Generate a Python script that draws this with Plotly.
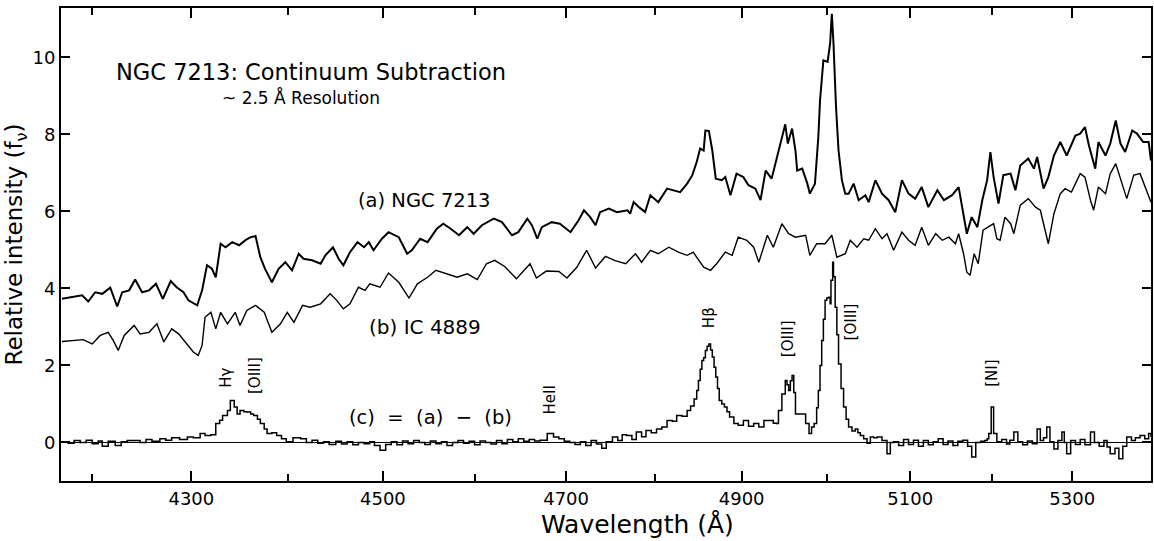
import math
import plotly.graph_objects as go

# ---------------- data ----------------
wl_a = [4170, 4176, 4183, 4190, 4196, 4203, 4210, 4218, 4225, 4230, 4237, 4243, 4250, 4257, 4264,
        4271, 4279, 4285, 4292, 4297, 4306, 4311, 4316, 4321, 4325, 4330, 4335, 4342, 4349, 4356,
        4361, 4366, 4371, 4376, 4383, 4390, 4397, 4404, 4411, 4416, 4425, 4434, 4439, 4447, 4453,
        4458, 4465, 4473, 4480, 4485, 4490, 4499, 4506, 4517, 4526, 4531, 4540, 4548, 4558, 4565,
        4573, 4582, 4591, 4598, 4607, 4620, 4629, 4640, 4647, 4657, 4662, 4668, 4673, 4684, 4693,
        4705, 4714, 4720, 4727, 4733, 4738, 4748, 4757, 4769, 4772, 4776, 4782, 4789, 4795, 4800,
        4804, 4814, 4822, 4829, 4837, 4843, 4848, 4852, 4856, 4858, 4862, 4866, 4870, 4877, 4881,
        4887, 4894, 4902, 4908, 4916, 4922, 4928, 4935, 4943, 4947, 4951, 4954, 4959, 4963, 4965,
        4971, 4977, 4980, 4986, 4990, 4992, 4996, 5001, 5004, 5006, 5008, 5011, 5014, 5018, 5022,
        5026, 5032, 5038, 5046, 5050, 5058, 5066, 5074, 5082, 5090, 5098, 5106, 5114, 5122, 5133,
        5141, 5151, 5159, 5165, 5169, 5175, 5182, 5188, 5194, 5198, 5202, 5208, 5214, 5223, 5229,
        5235, 5245, 5252, 5256, 5264, 5270, 5277, 5285, 5293, 5304, 5310, 5316, 5321, 5329, 5333,
        5342, 5348, 5355, 5361, 5367, 5376, 5382, 5390, 5397, 5400]
flux_a = [3.73, 3.76, 3.79, 3.82, 3.66, 3.90, 3.86, 4.02, 3.53, 3.90, 3.95, 4.23, 3.90, 3.95, 4.12,
          3.73, 4.19, 4.03, 3.90, 3.69, 3.56, 3.95, 4.60, 4.51, 4.29, 5.16, 5.07, 5.20, 5.12, 5.26,
          5.33, 5.36, 4.81, 4.50, 4.16, 4.51, 4.68, 4.47, 4.90, 4.77, 4.73, 4.64, 4.86, 5.07, 4.77,
          4.60, 4.94, 5.20, 5.07, 5.20, 4.99, 5.29, 5.46, 5.33, 4.90, 4.99, 5.29, 5.20, 5.55, 5.68,
          5.55, 5.38, 5.59, 5.42, 5.64, 5.81, 5.72, 5.38, 5.46, 5.81, 5.64, 5.29, 5.59, 5.72, 5.68,
          5.46, 5.77, 6.03, 5.85, 5.64, 5.98, 6.07, 5.98, 6.03, 5.94, 6.24, 6.11, 5.98, 6.42, 6.33,
          6.24, 6.59, 6.55, 6.50, 6.72, 6.94, 7.28, 7.63, 7.58, 8.10, 8.09, 7.58, 6.85, 6.81, 6.89,
          6.42, 6.98, 6.89, 6.68, 6.59, 6.29, 7.06, 6.85, 7.54, 7.84, 8.26, 7.76, 8.15, 7.58, 7.06,
          7.11, 6.72, 6.46, 6.72, 7.93, 8.88, 9.92, 9.88, 10.36, 11.13, 10.36, 8.71, 7.58, 6.81, 6.46,
          6.46, 6.72, 6.29, 6.42, 6.24, 6.81, 6.46, 6.29, 5.98, 6.81, 6.46, 6.33, 6.63, 6.11, 6.55,
          6.29, 6.42, 6.63, 5.94, 5.42, 5.85, 5.59, 6.29, 6.81, 7.54, 6.89, 6.20, 6.94, 6.98, 6.55,
          7.19, 7.37, 7.11, 7.41, 6.59, 6.89, 7.45, 7.80, 7.45, 7.97, 8.02, 8.19, 7.71, 7.11, 7.80,
          7.45, 7.76, 8.36, 7.76, 7.54, 8.10, 8.02, 7.80, 7.80, 7.32]

wl_b = [4170, 4181, 4191, 4200, 4208, 4216, 4221, 4226, 4232, 4242, 4248, 4257, 4265, 4272, 4280,
        4287, 4294, 4302, 4307, 4311, 4314, 4320, 4325, 4330, 4337, 4345, 4350, 4357, 4366, 4375,
        4383, 4392, 4399, 4406, 4415, 4423, 4434, 4444, 4451, 4458, 4465, 4474, 4481, 4486, 4497,
        4506, 4517, 4528, 4537, 4548, 4557, 4569, 4580, 4591, 4602, 4612, 4621, 4632, 4645, 4660,
        4667, 4678, 4692, 4701, 4712, 4723, 4733, 4744, 4755, 4767, 4778, 4785, 4795, 4804, 4816,
        4827, 4837, 4844, 4856, 4864, 4871, 4881, 4889, 4896, 4906, 4914, 4920, 4930, 4937, 4947,
        4955, 4963, 4975, 4980, 4988, 4998, 5006, 5012, 5022, 5028, 5036, 5044, 5050, 5058, 5066,
        5072, 5080, 5090, 5098, 5106, 5114, 5122, 5131, 5139, 5147, 5155, 5159, 5165, 5169, 5173,
        5178, 5183, 5189, 5195, 5202, 5206, 5210, 5216, 5223, 5227, 5235, 5245, 5254, 5260, 5266,
        5270, 5277, 5285, 5291, 5299, 5310, 5316, 5323, 5327, 5333, 5342, 5348, 5355, 5363, 5369,
        5378, 5386, 5395, 5400]
flux_b = [2.62, 2.65, 2.67, 2.56, 2.78, 2.86, 2.65, 2.39, 2.78, 3.04, 2.82, 2.86, 3.08, 2.61, 2.95,
          2.82, 2.61, 2.35, 2.26, 2.52, 3.25, 3.38, 2.95, 3.38, 3.08, 3.38, 3.04, 3.43, 3.56, 3.38,
          2.86, 3.08, 3.38, 3.12, 3.56, 3.51, 3.60, 3.86, 3.69, 3.47, 3.60, 4.03, 3.95, 4.12, 4.03,
          4.40, 4.16, 3.75, 4.12, 4.29, 4.47, 4.38, 4.29, 4.38, 4.23, 4.64, 4.73, 4.57, 4.25, 4.64,
          4.27, 4.45, 4.44, 4.27, 4.55, 4.99, 4.53, 4.83, 4.72, 4.64, 4.90, 4.68, 4.99, 4.90, 5.07,
          4.94, 4.86, 4.94, 4.55, 4.47, 4.64, 4.94, 4.86, 5.33, 5.25, 5.07, 4.68, 5.38, 5.07, 5.68,
          5.42, 5.33, 5.38, 4.86, 5.16, 5.16, 5.38, 4.81, 4.90, 5.25, 5.07, 5.29, 5.25, 5.55, 5.29,
          5.42, 4.99, 5.46, 5.25, 5.12, 5.59, 5.12, 5.42, 5.25, 5.33, 5.16, 5.42, 4.90, 4.42, 4.34,
          4.90, 4.64, 5.51, 5.59, 5.68, 5.29, 5.25, 5.85, 5.68, 5.42, 6.16, 6.33, 6.11, 6.03, 5.46,
          5.16, 5.94, 6.46, 6.59, 6.50, 6.98, 6.89, 6.29, 6.03, 6.63, 6.46, 6.98, 7.24, 6.72, 6.33,
          6.94, 6.98, 6.50, 6.24]

wl_c = [4170, 4176, 4182, 4188, 4194, 4200, 4206, 4210, 4216, 4223, 4229, 4235, 4242, 4248, 4254,
        4260, 4268, 4274, 4280, 4288, 4296, 4302, 4309, 4314, 4320, 4325, 4329, 4332, 4337, 4340,
        4344, 4347, 4350, 4354, 4357, 4361, 4364, 4368, 4371, 4375, 4378, 4383, 4388, 4393, 4398,
        4405, 4413, 4419, 4425, 4431, 4437, 4443, 4450, 4456, 4462, 4468, 4474, 4480, 4486, 4491,
        4497, 4503, 4509, 4515, 4521, 4527, 4533, 4539, 4545, 4551, 4557, 4563, 4569, 4575, 4581,
        4587, 4593, 4599, 4605, 4611, 4617, 4623, 4629, 4635, 4641, 4647, 4653, 4659, 4665, 4671,
        4679, 4686, 4692, 4698, 4704, 4710, 4716, 4722, 4728, 4734, 4740, 4745, 4752, 4758, 4763,
        4768, 4774, 4779, 4785, 4790, 4796, 4802, 4808, 4814, 4820, 4825, 4831, 4837, 4841, 4845,
        4848, 4850, 4852, 4854, 4856, 4858, 4860, 4862, 4864, 4866, 4868, 4870, 4872, 4874, 4877,
        4880, 4883, 4886, 4891, 4896, 4902, 4908, 4914, 4920, 4926, 4933, 4937, 4941, 4943, 4947,
        4951, 4953, 4955, 4957, 4959, 4961, 4963, 4969, 4975, 4979, 4982, 4985, 4988, 4990, 4992,
        4994, 4996, 4998, 5000, 5002, 5004, 5005, 5007, 5008, 5010, 5012, 5014, 5017, 5020, 5023,
        5026, 5030, 5034, 5037, 5040, 5044, 5048, 5052, 5056, 5060, 5066, 5072, 5076, 5080, 5086,
        5092, 5098, 5104, 5110, 5116, 5122, 5128, 5134, 5140, 5146, 5152, 5158, 5164, 5170, 5175,
        5180, 5186, 5191, 5194, 5196, 5199, 5202, 5206, 5212, 5218, 5222, 5227, 5232, 5238, 5244,
        5250, 5256, 5260, 5264, 5268, 5272, 5277, 5282, 5287, 5290, 5293, 5298, 5304, 5310, 5316,
        5323, 5328, 5334, 5340, 5344, 5348, 5354, 5359, 5364, 5369, 5375, 5380, 5386, 5392, 5397,
        5400]
flux_c = [0.02, -0.02, 0.05, 0.0, 0.06, -0.03, 0.04, -0.10, 0.03, -0.08, 0.02, 0.05, 0.05, 0.0, 0.08,
          0.03, 0.10, 0.06, 0.12, 0.08, 0.14, 0.12, 0.23, 0.18, 0.20, 0.49, 0.58, 0.70, 0.83, 1.09,
          0.92, 0.74, 0.83, 0.80, 0.79, 0.74, 0.70, 0.60, 0.49, 0.35, 0.23, 0.25, 0.18, 0.10, 0.02,
          0.12, 0.10, 0.0, 0.06, -0.02, 0.02, -0.05, 0.03, -0.04, 0.02, -0.06, 0.0, -0.03, 0.02, -0.08,
          -0.20, -0.05, 0.02, -0.06, 0.04, -0.03, 0.05, 0.0, -0.05, 0.04, -0.03, 0.02, -0.08, 0.0, 0.05,
          -0.02, 0.03, -0.06, 0.04, 0.0, -0.04, 0.05, -0.03, 0.08, 0.02, 0.10, 0.03, 0.08, 0.04, 0.06,
          0.23, 0.14, 0.10, 0.03, 0.0, -0.05, 0.02, -0.08, 0.05, -0.04, -0.15, 0.02, 0.14, 0.05, 0.20,
          0.18, 0.08, 0.27, 0.15, 0.31, 0.25, 0.35, 0.40, 0.57, 0.55, 0.70, 0.68, 0.83, 0.95, 1.13,
          1.35, 1.61, 1.90, 2.13, 2.20, 2.39, 2.50, 2.56, 2.40, 2.22, 1.95, 1.70, 1.40, 1.09, 1.00,
          0.92, 0.80, 0.66, 0.49, 0.45, 0.57, 0.42, 0.49, 0.40, 0.57, 0.57, 0.50, 0.49, 0.83, 1.26,
          1.61, 1.50, 1.35, 1.60, 1.74, 1.30, 0.74, 0.74, 0.49, 0.23, 0.40, 0.49, 0.90, 1.35, 2.00,
          2.65, 3.20, 3.69, 3.75, 3.77, 3.60, 4.21, 4.68, 4.30, 3.51, 2.80, 2.04, 1.40, 0.92, 0.60,
          0.40, 0.30, 0.35, 0.25, 0.18, 0.10, -0.02, 0.14, 0.12, 0.14, 0.05, -0.29, 0.0, 0.02, -0.08,
          0.08, -0.05, 0.06, -0.10, 0.05, -0.06, 0.02, 0.10, -0.05, 0.04, -0.08, 0.03, 0.06, -0.10, -0.38,
          0.0, 0.03, 0.05, 0.10, 0.23, 0.92, 0.23, 0.02, 0.08, -0.04, 0.06, 0.27, 0.02, -0.06, 0.04,
          -0.03, 0.35, 0.05, 0.12, 0.40, 0.02, -0.17, 0.05, 0.27, 0.0, -0.29, 0.05, -0.05, 0.08, -0.06,
          0.27, 0.0, -0.10, 0.05, -0.12, -0.29, -0.15, -0.42, -0.10, 0.14, 0.05, 0.12, 0.18, 0.10, 0.23,
          0.14]

major_ticks = [4300, 4500, 4700, 4900, 5100, 5300]
minor_ticks = [4200, 4400, 4600, 4800, 5000, 5200, 5400]
y_ticks = [0, 2, 4, 6, 8, 10]

line_ids = ["Hγ", "[OIII]", "HeII", "Hβ", "[OIII]", "[OIII]", "[NI]"]
line_wl = [4336, 4366, 4681, 4862, 4955, 5029, 5199]
line_lab_y = [1.69, 1.74, 1.09, 3.25, 2.70, 3.12, 1.79]

FONT = "DejaVu Sans"

fig = go.Figure()
fig.add_trace(go.Scatter(x=wl_a, y=flux_a, mode="lines", line=dict(color="black", width=2),
                         name="(a) NGC 7213", showlegend=False))
fig.add_trace(go.Scatter(x=wl_b, y=flux_b, mode="lines", line=dict(color="black", width=1.4),
                         name="(b) IC 4889", showlegend=False))
fig.add_trace(go.Scatter(x=wl_c, y=flux_c, mode="lines", line=dict(color="black", width=1.5, shape="hv"),
                         name="(c) = (a) - (b)", showlegend=False))

fig.add_hline(y=0, line=dict(color="black", width=1))

annos = []
for t, w, yv in zip(line_ids, line_wl, line_lab_y):
    annos.append(dict(x=math.log10(w), y=yv, xref="x", yref="y", text=t, showarrow=False,
                      textangle=-90, font=dict(family=FONT, size=15, color="black")))

annos += [
    dict(x=0.049, y=9.61, xref="paper", yref="y", xanchor="left", text="NGC 7213: Continuum Subtraction",
         showarrow=False, font=dict(family=FONT, size=22.5, color="black")),
    dict(x=0.146, y=8.96, xref="paper", yref="y", xanchor="left", text="~ 2.5 Å Resolution",
         showarrow=False, font=dict(family=FONT, size=17, color="black")),
    dict(x=0.271, y=6.29, xref="paper", yref="y", xanchor="left", text="(a) NGC 7213",
         showarrow=False, font=dict(family=FONT, size=19.5, color="black")),
    dict(x=0.281, y=2.99, xref="paper", yref="y", xanchor="left", text="(b) IC 4889",
         showarrow=False, font=dict(family=FONT, size=20, color="black")),
    dict(x=0.262, y=0.65, xref="paper", yref="y", xanchor="left", text="(c)  =  (a)  −  (b)",
         showarrow=False, font=dict(family=FONT, size=19.5, color="black")),
    dict(x=0.529, y=-0.091, xref="paper", yref="paper", xanchor="center", yanchor="middle",
         text="Wavelength (Å)", showarrow=False, font=dict(family=FONT, size=25, color="black")),
]

fig.update_layout(
    width=1154, height=541,
    margin=dict(l=61, r=3, t=8, b=60, autoexpand=False),
    paper_bgcolor="white", plot_bgcolor="white",
    font=dict(family=FONT, color="black"),
    annotations=annos,
    showlegend=False,
)
fig.update_xaxes(
    type="log", range=[math.log10(4169), math.log10(5400)], automargin=False,
    tickmode="array", tickvals=major_ticks, ticktext=[str(v) for v in major_ticks],
    ticks="inside", ticklen=10, tickwidth=2, tickcolor="black",
    minor=dict(tickmode="array", tickvals=minor_ticks, ticks="inside", ticklen=7, tickwidth=2, tickcolor="black"),
    showline=True, linewidth=2, linecolor="black", mirror="ticks",
    showgrid=False, zeroline=False,
    tickfont=dict(family=FONT, size=18, color="black"),
)
fig.update_yaxes(
    range=[-1, 11.28], automargin=False, tickmode="array", tickvals=y_ticks,
    ticks="inside", ticklen=9, tickwidth=2, tickcolor="black",
    showline=True, linewidth=2, linecolor="black", mirror="ticks",
    showgrid=False, zeroline=False,
    tickfont=dict(family=FONT, size=18, color="black"),
    title=dict(text="Relative intensity (f<sub>ν</sub>)", font=dict(family=FONT, size=23, color="black"), standoff=3),
)

fig.write_html(
    "out.html",
    config={"displayModeBar": False},
    post_script="document.body.style.margin='0';document.body.style.overflow='hidden';",
)
